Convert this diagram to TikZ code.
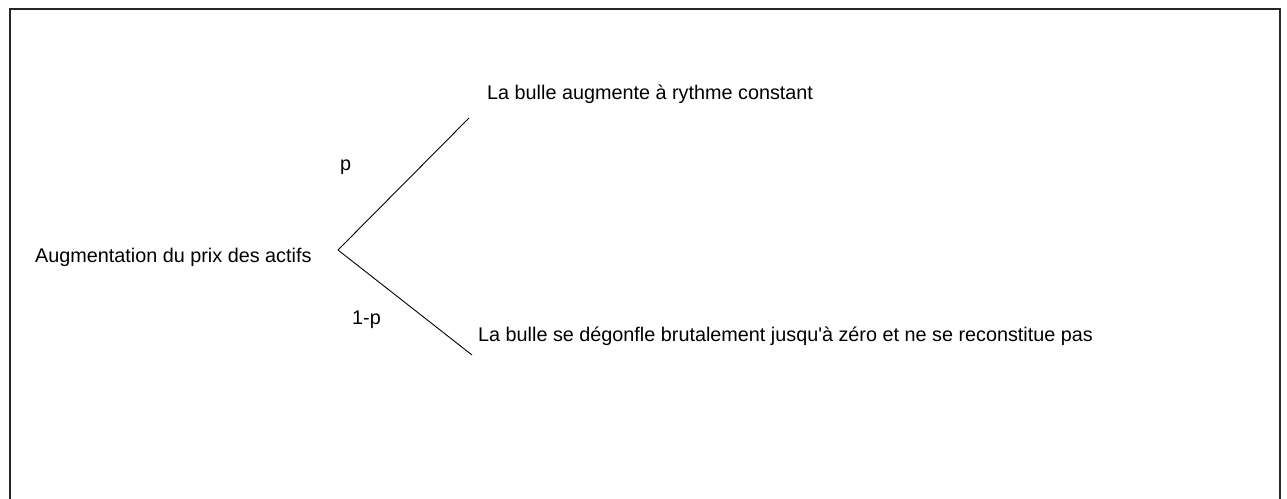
\documentclass[tikz,border=0pt]{standalone}
\usepackage{fontspec}
\setmainfont{Liberation Sans}
\begin{document}
\begin{tikzpicture}[x=1pt,y=-1pt,
  lbl/.style={anchor=base west,inner sep=0pt,font=\fontsize{19.8}{22}\selectfont},
  branch/.style={draw=black,line width=0.9pt},
  frame/.style={draw=black!85,line width=1.6pt}]
\useasboundingbox (0,0) rectangle (1287,498);
\draw[frame] (10,505) -- (10,9) -- (1280,9) -- (1280,505);
\node[lbl] (root) at (35,262) {Augmentation du prix des actifs};
\node[lbl] (up) at (487,99) {La bulle augmente à rythme constant};
\node[lbl] (down) at (478,341) {La bulle se dégonfle brutalement jusqu\textquotesingle à zéro et ne se reconstitue pas};
\node[lbl] (p) at (340,170) {p};
\node[lbl] (q) at (352,324) {1-p};
\coordinate (v) at (338,250);
\coordinate (a) at (469,118);
\coordinate (b) at (472,355);
\draw[branch] (a) -- (v) -- (b);
\end{tikzpicture}
\end{document}
